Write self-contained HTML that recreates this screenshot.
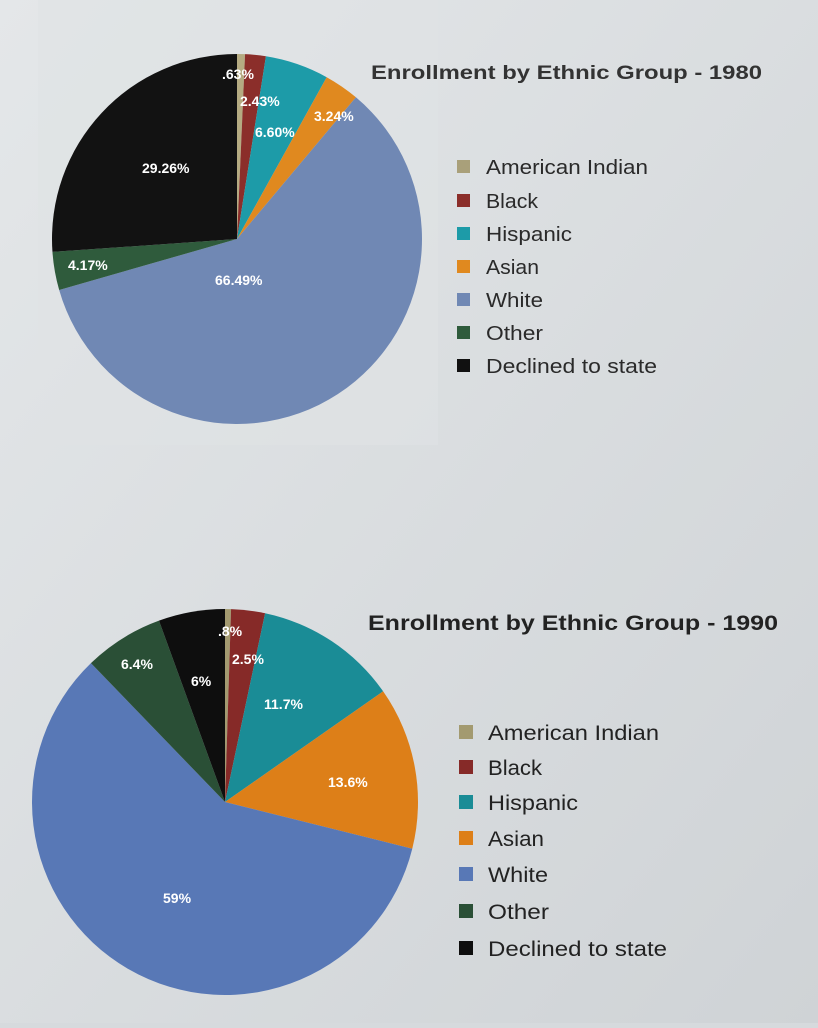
<!DOCTYPE html>
<html><head><meta charset="utf-8"><style>
html,body{margin:0;padding:0;}
body{width:818px;height:1023px;background:#d6dadd;font-family:"Liberation Sans",sans-serif;overflow:hidden;}
</style></head><body>
<svg width="818" height="1023" viewBox="0 0 818 1023" xmlns="http://www.w3.org/2000/svg">
<defs>
<linearGradient id="bg" x1="0" y1="0" x2="1" y2="1">
<stop offset="0" stop-color="#e4e7e9"/><stop offset="1" stop-color="#cfd3d6"/>
</linearGradient>
</defs>
<rect width="818" height="1023" fill="url(#bg)"/>
<rect x="38" y="0" width="400" height="445" fill="#dfe2e4" opacity="0.6"/>
<g id="p1"></g><g id="p2"></g>
<g font-weight="bold" fill="#fff" font-size="14">
<text x="222" y="79">.63%</text>
<text x="240" y="106">2.43%</text>
<text x="255" y="137">6.60%</text>
<text x="314" y="121">3.24%</text>
<text x="142" y="173">29.26%</text>
<text x="68" y="270">4.17%</text>
<text x="215" y="285">66.49%</text>
<text x="218" y="636">.8%</text>
<text x="232" y="664">2.5%</text>
<text x="264" y="709">11.7%</text>
<text x="328" y="787">13.6%</text>
<text x="121" y="669">6.4%</text>
<text x="191" y="686">6%</text>
<text x="163" y="903">59%</text>
</g>
<text x="371" y="79" font-size="19" font-weight="bold" fill="#333" textLength="391" lengthAdjust="spacingAndGlyphs">Enrollment by Ethnic Group - 1980</text>
<text x="368" y="630" font-size="21" font-weight="bold" fill="#222" textLength="410" lengthAdjust="spacingAndGlyphs">Enrollment by Ethnic Group - 1990</text>
<g font-size="20" fill="#2a2a2a">
<rect x="457" y="160" width="13" height="13" fill="#a9a07a"/><text x="486" y="174" textLength="162" lengthAdjust="spacingAndGlyphs">American Indian</text>
<rect x="457" y="194" width="13" height="13" fill="#8b2e2a"/><text x="486" y="208" textLength="52" lengthAdjust="spacingAndGlyphs">Black</text>
<rect x="457" y="227" width="13" height="13" fill="#1d9ba8"/><text x="486" y="241" textLength="86" lengthAdjust="spacingAndGlyphs">Hispanic</text>
<rect x="457" y="260" width="13" height="13" fill="#e0891f"/><text x="486" y="274" textLength="53" lengthAdjust="spacingAndGlyphs">Asian</text>
<rect x="457" y="293" width="13" height="13" fill="#7088b4"/><text x="486" y="307" textLength="57" lengthAdjust="spacingAndGlyphs">White</text>
<rect x="457" y="326" width="13" height="13" fill="#2f5b3c"/><text x="486" y="340" textLength="57" lengthAdjust="spacingAndGlyphs">Other</text>
<rect x="457" y="359" width="13" height="13" fill="#111"/><text x="486" y="373" textLength="171" lengthAdjust="spacingAndGlyphs">Declined to state</text>
</g>
<g font-size="21" fill="#222">
<rect x="459" y="725" width="14" height="14" fill="#a39a70"/><text x="488" y="740" textLength="171" lengthAdjust="spacingAndGlyphs">American Indian</text>
<rect x="459" y="760" width="14" height="14" fill="#862a28"/><text x="488" y="775" textLength="54" lengthAdjust="spacingAndGlyphs">Black</text>
<rect x="459" y="795" width="14" height="14" fill="#1a8c96"/><text x="488" y="810" textLength="90" lengthAdjust="spacingAndGlyphs">Hispanic</text>
<rect x="459" y="831" width="14" height="14" fill="#dd7f18"/><text x="488" y="846" textLength="56" lengthAdjust="spacingAndGlyphs">Asian</text>
<rect x="459" y="867" width="14" height="14" fill="#5878b6"/><text x="488" y="882" textLength="60" lengthAdjust="spacingAndGlyphs">White</text>
<rect x="459" y="904" width="14" height="14" fill="#2a4f36"/><text x="488" y="919" textLength="61" lengthAdjust="spacingAndGlyphs">Other</text>
<rect x="459" y="941" width="14" height="14" fill="#0e0e0e"/><text x="488" y="956" textLength="179" lengthAdjust="spacingAndGlyphs">Declined to state</text>
</g>
</svg>
<script>
function pie(id,cx,cy,r,sl){
 var g=document.getElementById(id),ns="http://www.w3.org/2000/svg";
 sl.forEach(function(s){
  var a0=s[0]*Math.PI/180,a1=s[1]*Math.PI/180;
  var x0=cx+r*Math.sin(a0),y0=cy-r*Math.cos(a0),x1=cx+r*Math.sin(a1),y1=cy-r*Math.cos(a1);
  var large=(s[1]-s[0])>180?1:0;
  var p=document.createElementNS(ns,"path");
  p.setAttribute("d","M"+cx+","+cy+" L"+x0+","+y0+" A"+r+","+r+" 0 "+large+" 1 "+x1+","+y1+" Z");
  p.setAttribute("fill",s[2]);
  g.appendChild(p);
 });
}
pie("p1",237,239,185,[[0,2.5,"#b5ab82"],[2.5,9,"#8b2e2a"],[9,29,"#1d9ba8"],[29,40,"#e0891f"],[40,254,"#7088b4"],[254,266,"#2f5b3c"],[266,360,"#121212"]]);
pie("p2",225,802,193,[[0,1.8,"#a39a70"],[1.8,12,"#862a28"],[12,55,"#1a8c96"],[55,104,"#dd7f18"],[104,316,"#5878b6"],[316,340,"#2a4f36"],[340,360,"#0e0e0e"]]);
</script>
</body></html>
